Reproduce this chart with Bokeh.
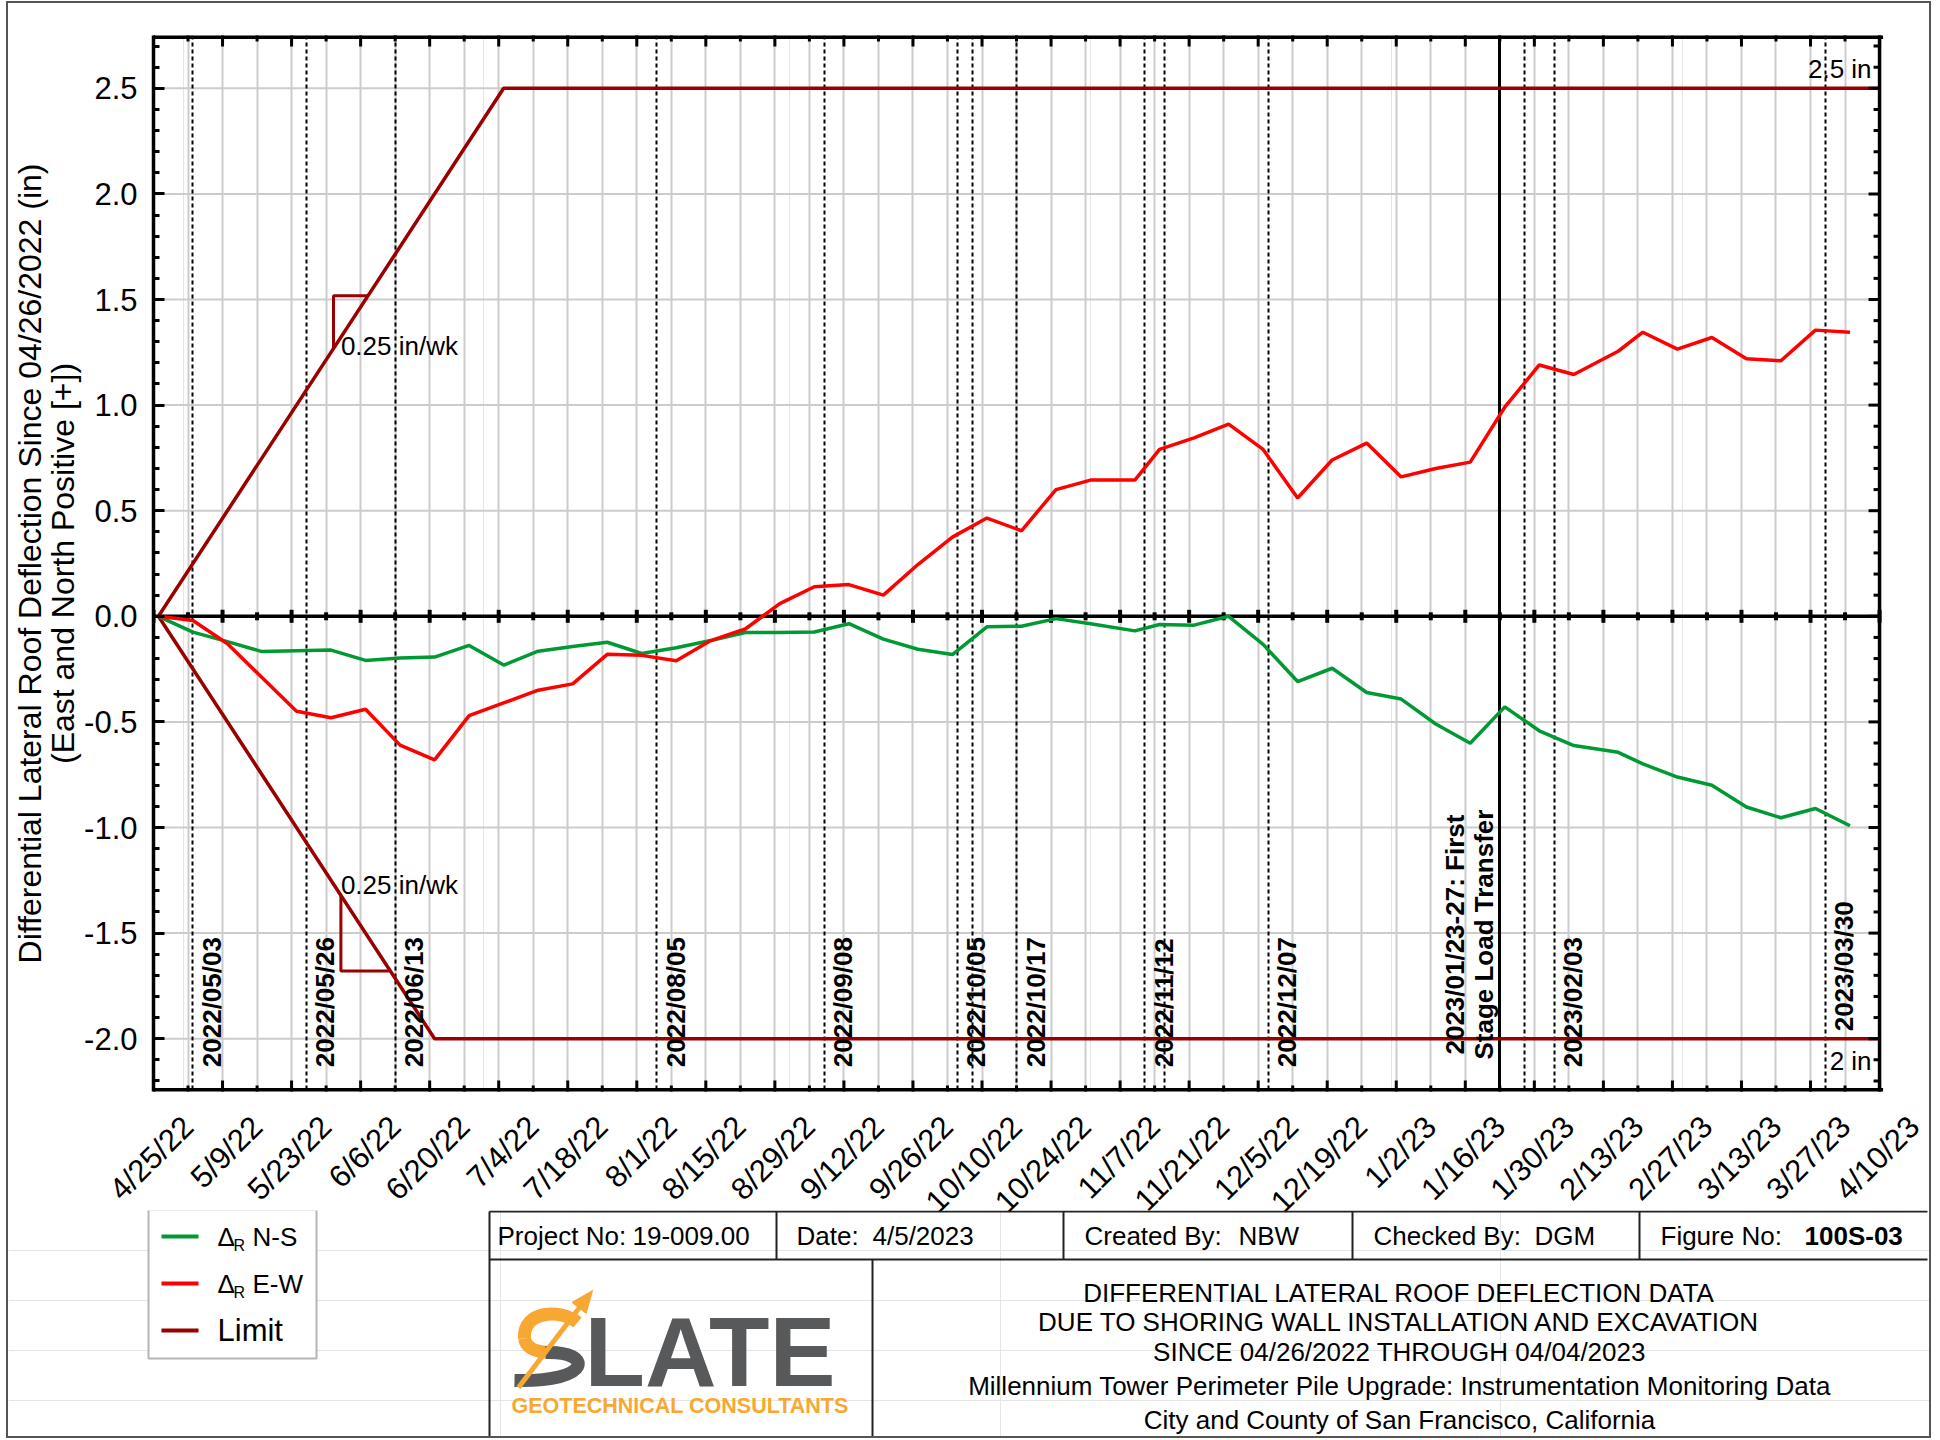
import math
import pandas as pd
from bokeh.plotting import figure
from bokeh.models import Range1d, FixedTicker, CustomJSTickFormatter, LinearAxis, Grid
from bokeh.layouts import column
from bokeh.embed import file_html
from bokeh.resources import INLINE
from bokeh.core.properties import value

FONT = "Liberation Sans"
GREEN = "#009933"
RED = "#ff0000"
LIMIT = "#990000"
GRID = "#cccccc"

# ---------------- data ----------------
DATES = ["2022-04-26", "2022-05-03", "2022-05-10", "2022-05-17", "2022-05-24", "2022-05-31",
         "2022-06-07", "2022-06-14", "2022-06-21", "2022-06-28", "2022-07-05", "2022-07-12",
         "2022-07-19", "2022-07-26", "2022-08-02", "2022-08-09", "2022-08-16", "2022-08-23",
         "2022-08-30", "2022-09-06", "2022-09-13", "2022-09-20", "2022-09-27", "2022-10-04",
         "2022-10-11", "2022-10-18", "2022-10-25", "2022-11-01", "2022-11-10", "2022-11-15",
         "2022-11-22", "2022-11-29", "2022-12-06", "2022-12-13", "2022-12-20", "2022-12-27",
         "2023-01-03", "2023-01-10", "2023-01-17", "2023-01-24", "2023-01-31", "2023-02-07",
         "2023-02-16", "2023-02-21", "2023-02-28", "2023-03-07", "2023-03-14", "2023-03-21",
         "2023-03-28", "2023-04-04"]

NS = [0.0, -0.075, -0.12, -0.167, -0.163, -0.16, -0.209, -0.197, -0.193, -0.138, -0.231, -0.165,
      -0.143, -0.123, -0.176, -0.149, -0.115, -0.077, -0.077, -0.074, -0.035, -0.108, -0.156, -0.181,
      -0.05, -0.047, -0.011, -0.035, -0.069, -0.039, -0.042, 0.0, -0.133, -0.309, -0.246, -0.361,
      -0.392, -0.51, -0.601, -0.429, -0.542, -0.612, -0.644, -0.699, -0.761, -0.80, -0.903, -0.954,
      -0.91, -0.992]

EW = [0.0, -0.02, -0.13, -0.29, -0.45, -0.48, -0.44, -0.61, -0.68, -0.47, -0.41, -0.35,
      -0.32, -0.18, -0.185, -0.21, -0.115, -0.06, 0.06, 0.14, 0.15, 0.10, 0.245, 0.375,
      0.465, 0.405, 0.60, 0.645, 0.645, 0.79, 0.845, 0.91, 0.79, 0.56, 0.74, 0.82,
      0.66, 0.70, 0.73, 0.99, 1.19, 1.145, 1.255, 1.345, 1.265, 1.32, 1.22, 1.21,
      1.355, 1.345]

LIMIT_UP_X = ["2022-04-26", "2022-07-05", "2023-04-10"]
LIMIT_UP_Y = [0.0, 2.5, 2.5]
LIMIT_LO_X = ["2022-04-26", "2022-06-21", "2023-04-10"]
LIMIT_LO_Y = [0.0, -2.0, -2.0]

TRI_UP_X = ["2022-05-31 12:00", "2022-05-31 12:00", "2022-06-07 12:00"]
TRI_UP_Y = [1.268, 1.518, 1.518]
TRI_LO_X = ["2022-06-02", "2022-06-02", "2022-06-12"]
TRI_LO_Y = [-1.321, -1.679, -1.679]
RATE_TEXT = ["0.25 in/wk", "0.25 in/wk"]
RATE_X = ["2022-06-02", "2022-06-02"]
RATE_Y = [1.278, -1.27]

EVENT_DATES = ["2022-05-03", "2022-05-26", "2022-06-13", "2022-08-05", "2022-09-08", "2022-10-05",
               "2022-10-08", "2022-10-17", "2022-11-12", "2022-11-16", "2022-12-07", "2023-01-28",
               "2023-02-03", "2023-03-30"]
LABEL_DATES = ["2022-05-03", "2022-05-26", "2022-06-13", "2022-08-05", "2022-09-08", "2022-10-05",
               "2022-10-17", "2022-11-12", "2022-12-07", "2023-02-03", "2023-03-30"]
LABEL_TEXT = ["2022/05/03", "2022/05/26", "2022/06/13", "2022/08/05", "2022/09/08", "2022/10/05",
              "2022/10/17", "2022/11/12", "2022/12/07", "2023/02/03", "2023/03/30"]
LABEL_Y = [-2.135] * 10 + [-1.965]

TRANSFER_DATE = "2023-01-23"
TRANSFER_TEXT = ["2023/01/23-27: First", "Stage Load Transfer"]
TRANSFER_Y = -1.507

LIMIT_TEXT = ["2.5 in", "2 in"]
LIMIT_TEXT_Y = [2.59, -2.107]

X_RANGE = ["2022-04-25", "2023-04-10"]
Y_RANGE = [-2.25, 2.75]
X_TICKS = ["2022-04-25", "2022-05-09", "2022-05-23", "2022-06-06", "2022-06-20", "2022-07-04",
           "2022-07-18", "2022-08-01", "2022-08-15", "2022-08-29", "2022-09-12", "2022-09-26",
           "2022-10-10", "2022-10-24", "2022-11-07", "2022-11-21", "2022-12-05", "2022-12-19",
           "2023-01-02", "2023-01-16", "2023-01-30", "2023-02-13", "2023-02-27", "2023-03-13",
           "2023-03-27", "2023-04-10"]
X_TICK_LABELS = ["4/25/22", "5/9/22", "5/23/22", "6/6/22", "6/20/22", "7/4/22", "7/18/22", "8/1/22",
                 "8/15/22", "8/29/22", "9/12/22", "9/26/22", "10/10/22", "10/24/22", "11/7/22",
                 "11/21/22", "12/5/22", "12/19/22", "1/2/23", "1/16/23", "1/30/23", "2/13/23",
                 "2/27/23", "3/13/23", "3/27/23", "4/10/23"]
X_MINOR = ["2022-05-02", "2022-05-16", "2022-05-30", "2022-06-13", "2022-06-27", "2022-07-11",
           "2022-07-25", "2022-08-08", "2022-08-22", "2022-09-05", "2022-09-19", "2022-10-03",
           "2022-10-17", "2022-10-31", "2022-11-14", "2022-11-28", "2022-12-12", "2022-12-26",
           "2023-01-09", "2023-01-23", "2023-02-06", "2023-02-20", "2023-03-06", "2023-03-20",
           "2023-04-03"]
Y_TICKS = [-2.0, -1.5, -1.0, -0.5, 0.0, 0.5, 1.0, 1.5, 2.0, 2.5]
Y_MINOR = [round(-2.2 + 0.1 * i, 1) for i in range(50) if round(-2.2 + 0.1 * i, 1) not in Y_TICKS]

LEGEND_LABELS = ["N-S", "E-W", "Limit"]
LEGEND_COLORS = [GREEN, RED, LIMIT]

TB_ROW1 = ["Project No:", "19-009.00", "Date:", "4/5/2023", "Created By:", "NBW",
           "Checked By:", "DGM", "Figure No:"]
TB_ROW1_X = [497, 632, 796, 872, 1084, 1238, 1373, 1534, 1660]
TB_FIGNO = "100S-03"
TB_TITLE = ["DIFFERENTIAL LATERAL ROOF DEFLECTION DATA",
            "DUE TO SHORING WALL INSTALLATION AND EXCAVATION",
            "SINCE 04/26/2022 THROUGH 04/04/2023",
            "Millennium Tower Perimeter Pile Upgrade: Instrumentation Monitoring Data",
            "City and County of San Francisco, California"]
TB_TITLE_Y = [1292, 1321, 1351, 1385, 1419]


def ms(s):
    return pd.Timestamp(s).value / 1e6


DAY = 86400000.0
X0, X1 = ms(X_RANGE[0]), ms(X_RANGE[1])
SHIFT = 7 * DAY
xt_major = [ms(d) for d in X_TICKS]
xt_minor = [ms(d) for d in X_MINOR]
dates_ms = [ms(d) for d in DATES]

# page geometry: canvas origin (after 2px border) at page (8, 3)
OX, OY = 8, 3
W = 1921
H1 = 1242
FOOT_TOP = 1210
FOOT_BOT = 1436
FRAME_L, FRAME_R, FRAME_T, FRAME_B = 151, 1879, 35, 1091
# the plotting frame runs on past the chart's right edge so that the last
# rotated date label (which sits right of its tick) can still be drawn
XE = X1 + (OX + W - FRAME_R) * (X1 - X0) / (FRAME_R - FRAME_L)

# ---------------- main chart ----------------
p = figure(width=W, height=H1, x_axis_type="datetime",
           x_range=Range1d(X0, XE), y_range=Range1d(Y_RANGE[0], Y_RANGE[1]),
           x_axis_location=None, y_axis_location="left",
           min_border_left=FRAME_L - OX, min_border_right=0,
           min_border_top=FRAME_T - OY, min_border_bottom=OY + H1 - FRAME_B,
           output_backend="svg", toolbar_location=None)
p.frame_align = False
p.background_fill_color = "white"
p.border_fill_color = "white"
p.outline_line_color = None

ya = p.yaxis[0]
ya.ticker = FixedTicker(ticks=Y_TICKS, minor_ticks=Y_MINOR)
ya.formatter = CustomJSTickFormatter(code="return tick.toFixed(1);")
ya.major_tick_in = 11
ya.major_tick_out = 0
ya.minor_tick_in = 6
ya.minor_tick_out = 0
ya.major_tick_line_width = 3
ya.minor_tick_line_width = 3
ya.axis_line_width = 3.5
ya.major_label_text_font = FONT
ya.major_label_text_font_size = "31px"
ya.major_label_text_color = "black"
ya.major_label_standoff = 16
ya.axis_label = "Differential Lateral Roof Deflection Since 04/26/2022 (in)\n(East and North Positive [+])"
ya.axis_label_text_font = FONT
ya.axis_label_text_font_size = "32px"
ya.axis_label_text_line_height = 0.92
ya.axis_label_text_font_style = "normal"
ya.axis_label_text_color = "black"
ya.axis_label_standoff = 0

p.ygrid.grid_line_color = None
p.add_layout(Grid(dimension=0, ticker=FixedTicker(ticks=sorted(xt_major + xt_minor)),
                  grid_line_color=GRID, grid_line_width=2))

p.extra_x_ranges = {"lab": Range1d(X0 - SHIFT, XE - SHIFT)}
xa = LinearAxis(x_range_name="lab", ticker=FixedTicker(ticks=xt_major),
                formatter=CustomJSTickFormatter(
                    args=dict(tvals=xt_major, tlabels=X_TICK_LABELS),
                    code="""
let best = -1, bd = 1e99;
for (let i = 0; i < tvals.length; i++) {
  const d = Math.abs(tvals[i] - tick);
  if (d < bd) { bd = d; best = i; }
}
return bd < 3600000 ? tlabels[best] : "";
"""))
xa.axis_line_color = None
xa.major_tick_in = 0
xa.major_tick_out = 0
xa.minor_tick_in = 0
xa.minor_tick_out = 0
xa.major_label_orientation = math.pi / 4
xa.major_label_standoff = 30
xa.major_label_text_font = FONT
xa.major_label_text_font_size = "31px"
xa.major_label_text_color = "black"
p.add_layout(xa, "below")

# horizontal grid lines (only across the chart's date span)
p.segment(x0=[X0] * len(Y_TICKS), x1=[X1] * len(Y_TICKS), y0=Y_TICKS, y1=Y_TICKS,
          line_color=GRID, line_width=2)

# event lines
p.vspan(x=[ms(d) for d in EVENT_DATES], line_color="black", line_width=2, line_dash="4 3")
p.vspan(x=[ms(TRANSFER_DATE)], line_color="black", line_width=3)

# limits
p.line(x=[ms(d) for d in LIMIT_UP_X], y=LIMIT_UP_Y, line_color=LIMIT, line_width=3.5)
p.line(x=[ms(d) for d in LIMIT_LO_X], y=LIMIT_LO_Y, line_color=LIMIT, line_width=3.5)
p.line(x=[ms(d) for d in TRI_UP_X], y=TRI_UP_Y, line_color=LIMIT, line_width=3)
p.line(x=[ms(d) for d in TRI_LO_X], y=TRI_LO_Y, line_color=LIMIT, line_width=3)

# zero line with ticks
p.segment(x0=[X0], x1=[X1], y0=[0.0], y1=[0.0], line_color="black", line_width=3.5)
p.scatter(x=xt_major, y=[0.0] * len(xt_major), marker="dash", angle=math.pi / 2,
          size=13, line_color="black", line_width=4)
p.scatter(x=xt_minor, y=[0.0] * len(xt_minor), marker="dash", angle=math.pi / 2,
          size=8, line_color="black", line_width=4)

# frame ticks (top, bottom, right) pointing inward
for yy in Y_RANGE:
    p.scatter(x=xt_major, y=[yy] * len(xt_major), marker="dash", angle=math.pi / 2,
              size=22, line_color="black", line_width=3)
    p.scatter(x=xt_minor, y=[yy] * len(xt_minor), marker="dash", angle=math.pi / 2,
              size=12, line_color="black", line_width=3)
p.ray(x=[X1] * len(Y_TICKS), y=Y_TICKS, length=11, length_units="screen", angle=math.pi,
      line_color="black", line_width=3)
p.ray(x=[X1] * len(Y_MINOR), y=Y_MINOR, length=6, length_units="screen", angle=math.pi,
      line_color="black", line_width=3)

# series
p.line(x=dates_ms, y=NS, line_color=GREEN, line_width=3.5)
p.line(x=dates_ms, y=EW, line_color=RED, line_width=3.5)

# chart border (top, bottom, right)
p.segment(x0=[X0, X0], x1=[X1, X1], y0=Y_RANGE, y1=Y_RANGE, line_color="black",
          line_width=7, line_cap="square")
p.segment(x0=[X1], x1=[X1], y0=[Y_RANGE[0]], y1=[Y_RANGE[1]], line_color="black", line_width=3.5)

# texts
p.text(x=[ms(d) for d in LABEL_DATES], y=LABEL_Y, text=LABEL_TEXT, angle=math.pi / 2,
       text_align="left", text_baseline="top", x_offset=4,
       text_font=value(FONT), text_font_style="bold", text_font_size=value("26px"),
       text_color="black")
p.text(x=[ms(TRANSFER_DATE)], y=[TRANSFER_Y], text=[TRANSFER_TEXT[1]], angle=math.pi / 2,
       text_align="center", text_baseline="bottom", x_offset=-1,
       text_font=value(FONT), text_font_style="bold", text_font_size=value("26px"),
       text_color="black")
p.text(x=[ms(TRANSFER_DATE)], y=[TRANSFER_Y], text=[TRANSFER_TEXT[0]], angle=math.pi / 2,
       text_align="center", text_baseline="bottom", x_offset=-30,
       text_font=value(FONT), text_font_style="bold", text_font_size=value("26px"),
       text_color="black")
p.text(x=[ms(d) for d in RATE_X], y=RATE_Y, text=RATE_TEXT, text_align="left",
       text_baseline="middle", text_font=value(FONT), text_font_size=value("26px"),
       text_color="black")
p.text(x=[X1, X1], y=LIMIT_TEXT_Y, text=LIMIT_TEXT, text_align="right", text_baseline="middle",
       x_offset=-8, text_font=value(FONT), text_font_size=value("26px"), text_color="black")

# ---------------- footer: legend + title block (page pixel coordinates) ----------------
f = figure(width=W, height=FOOT_BOT - FOOT_TOP, x_range=Range1d(OX, OX + W),
           y_range=Range1d(FOOT_BOT, FOOT_TOP),
           x_axis_location=None, y_axis_location=None, min_border=0,
           output_backend="svg", toolbar_location=None,
           margin=(FOOT_TOP - (OY + H1), 0, 0, 0))
f.frame_align = False
f.outline_line_color = None
f.background_fill_color = None
f.border_fill_color = None

# legend
LEG_Y = [1236, 1283, 1330]
f.quad(left=[148], right=[316], top=[1209], bottom=[1358], fill_color="white",
       line_color="#b5b5b5", line_width=2)
f.segment(x0=[161] * 3, x1=[198] * 3, y0=LEG_Y, y1=LEG_Y, line_color=LEGEND_COLORS, line_width=4)
f.text(x=[217, 217], y=LEG_Y[:2], text=["\u0394", "\u0394"], text_baseline="middle",
       text_font=value(FONT), text_font_size=value("26px"), text_color="black")
f.text(x=[233, 233], y=[LEG_Y[0] + 9, LEG_Y[1] + 9], text=["R", "R"], text_baseline="middle",
       text_font=value(FONT), text_font_size=value("16px"), text_color="black")
f.text(x=[252, 252], y=LEG_Y[:2], text=LEGEND_LABELS[:2], text_baseline="middle",
       text_font=value(FONT), text_font_size=value("26px"), text_color="black")
f.text(x=[217], y=[LEG_Y[2]], text=[LEGEND_LABELS[2]], text_baseline="middle",
       text_font=value(FONT), text_font_size=value("31px"), text_color="black")

# title block frame
TB_L, TB_R, TB_T, TB_M, TB_B = 489, 1927, 1211, 1259, 1440
f.segment(x0=[TB_L, TB_L], x1=[TB_R, TB_R], y0=[TB_T, TB_M], y1=[TB_T, TB_M],
          line_color="#222222", line_width=2)
f.segment(x0=[TB_L, 872], x1=[TB_L, 872], y0=[TB_T, TB_M], y1=[TB_B, TB_B],
          line_color="#222222", line_width=2)
DIV_X = [776, 1063, 1352, 1639]
f.segment(x0=DIV_X, x1=DIV_X, y0=[TB_T] * 4, y1=[TB_M] * 4, line_color="#222222", line_width=2)

f.text(x=TB_ROW1_X, y=[1235] * len(TB_ROW1), text=TB_ROW1, text_baseline="middle",
       text_font=value(FONT), text_font_size=value("26px"), text_color="black")
f.text(x=[1804], y=[1235], text=[TB_FIGNO], text_baseline="middle", text_font=value(FONT),
       text_font_style="bold", text_font_size=value("26px"), text_color="black")
f.text(x=[1399] * len(TB_TITLE), y=TB_TITLE_Y, text=TB_TITLE, text_align="center",
       text_baseline="middle", text_font=value(FONT), text_font_size=value("26px"),
       text_color="black")

# logo
LOGO_GREY = "#58595b"
LOGO_ORANGE = "#f7a833"
f.text(x=[584], y=[1351], text=["LATE"], text_baseline="middle", text_font=value(FONT),
       text_font_style="bold", text_font_size=value("99px"), text_color=LOGO_GREY)
f.bezier(x0=[577], y0=[1322], x1=[524], y1=[1338], cx0=[560], cy0=[1308], cx1=[522], cy1=[1310],
         line_color=LOGO_ORANGE, line_width=13)
f.bezier(x0=[524], y0=[1338], x1=[552], y1=[1352], cx0=[526], cy0=[1350], cx1=[540], cy1=[1352],
         line_color=LOGO_ORANGE, line_width=13)
f.bezier(x0=[545], y0=[1352], x1=[514], y1=[1380], cx0=[592], cy0=[1350], cx1=[594], cy1=[1382],
         line_color=LOGO_GREY, line_width=13)
f.segment(x0=[518], y0=[1387], x1=[579], y1=[1307], line_color=LOGO_ORANGE, line_width=5)
f.patch(x=[592, 585.7, 571.5], y=[1290, 1312.9, 1301.9], color=LOGO_ORANGE)
f.text(x=[511], y=[1405], text=["GEOTECHNICAL CONSULTANTS"], text_baseline="middle",
       text_font=value(FONT), text_font_style="bold", text_font_size=value("21.5px"),
       text_color=LOGO_ORANGE)

layout = column(p, f, styles={"border": "2px solid #555555"}, margin=(1, 0, 0, 6))
open("out.html", "w").write(file_html(layout, INLINE))
